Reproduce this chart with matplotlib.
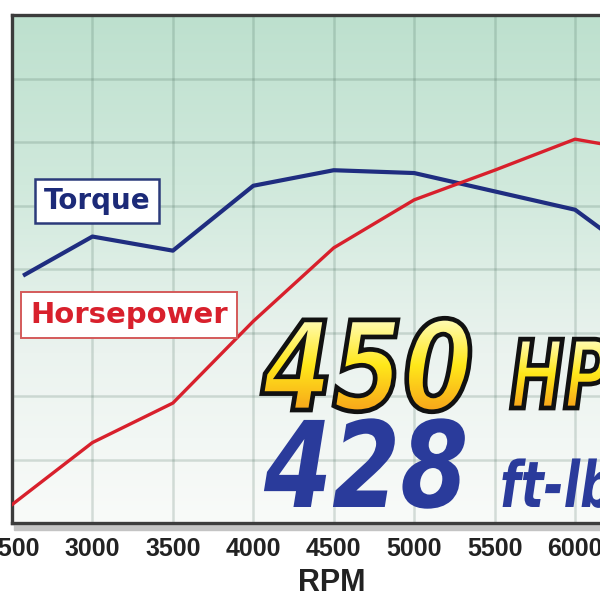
import numpy as np
import matplotlib
matplotlib.use("Agg")
from matplotlib import pyplot as plt
from matplotlib import font_manager
from matplotlib.textpath import TextPath
from matplotlib.patches import PathPatch, Rectangle
from matplotlib.font_manager import FontProperties
from matplotlib.colors import LinearSegmentedColormap
from matplotlib.transforms import Affine2D

# dyno readings
rpm_torque = [2580, 3000, 3500, 4000, 4500, 5000, 5500, 6000, 6500]
torque = [354, 381, 371, 417, 428, 426, 413, 400, 358]
rpm_hp = [2500, 3000, 3500, 4000, 4500, 5000, 5500, 6000, 6500]
horsepower = [191, 235, 263, 321, 373, 407, 428, 450, 440]
rpm_ticks = [2500, 3000, 3500, 4000, 4500, 5000, 5500, 6000]
grid_levels = [178 + 45 * k for k in range(9)]

peak_hp = "450"
peak_tq = "428"

names = {f.name for f in font_manager.fontManager.ttflist}
if "Liberation Sans Narrow" in names:
    tick_font = "Liberation Sans Narrow"
    tick_size = 23
    rpm_size = 27
else:
    tick_font = "Liberation Sans"
    tick_size = 18
    rpm_size = 22

fig = plt.figure(figsize=(6, 6), dpi=100)
fig.patch.set_facecolor("white")
# frame shadow
fig.add_artist(Rectangle((14 / 600, 70 / 600), 586 / 600, 8 / 600,
                         transform=fig.transFigure, color="#c4c4c4", zorder=0))
ax = fig.add_axes([12 / 600, 77 / 600, 588 / 600, 508 / 600])
ax.set_xlim(2500, 6155)
ax.set_ylim(178, 538)

# background gradient
bg = LinearSegmentedColormap.from_list("bg", ["#bde0ce", "#d0e9dc", "#ebf3ef", "#f9fbf9"])
grad = np.linspace(0, 1, 256).reshape(-1, 1)
ax.imshow(grad, extent=(2500, 6155, 178, 538), aspect="auto", cmap=bg,
          origin="upper", zorder=0)

ax.set_xticks(rpm_ticks)
ax.set_yticks(grid_levels)
ax.set_axisbelow(True)
ax.grid(True, color="#3f6353", alpha=0.2, linewidth=1.8)
ax.tick_params(length=0, pad=10, labelleft=False)
ax.set_xticklabels([str(r) for r in rpm_ticks], family=tick_font,
                   fontsize=tick_size, fontweight="bold", color="#222222")
for s in ["top", "left", "bottom"]:
    ax.spines[s].set_color("#3c3c3c")
    ax.spines[s].set_linewidth(2.4)
ax.spines["right"].set_visible(False)

fig.text(332 / 600, 1 - 568 / 600, "RPM", ha="center", va="top", family=tick_font,
         fontsize=rpm_size, fontweight="bold", color="#222222")

ax.plot(rpm_torque, torque, color="#1f2d80", linewidth=3.0, zorder=3)
ax.plot(rpm_hp, horsepower, color="#d8202c", linewidth=2.4, zorder=3)

# legend boxes
ax.text((97 - 12) / 588, (523 - 201) / 508, "Torque", transform=ax.transAxes,
        ha="center", va="center", family="DejaVu Sans", fontweight="bold",
        fontsize=20, color="#1c2a78", zorder=4,
        bbox=dict(boxstyle="square,pad=0.3", facecolor="white",
                  edgecolor="#2b3a7a", linewidth=1.8))
ax.text((129 - 12) / 588, (523 - 315) / 508, "Horsepower", transform=ax.transAxes,
        ha="center", va="center", family="DejaVu Sans", fontweight="bold",
        fontsize=21, color="#d8202c", zorder=4,
        bbox=dict(boxstyle="square,pad=0.3", facecolor="white",
                  edgecolor="#d45a5a", linewidth=1.4))

# big peak numbers drawn as paths so they can take a gradient fill
fp = FontProperties(family="DejaVu Sans", weight="bold", style="oblique")
k = fig.dpi / 72
yellow = LinearSegmentedColormap.from_list("yel", ["#fffcb8", "#ffe81a", "#f8a41a"])


def big_text(s, size, px, py, sx=1.0, fill=None, outline=True):
    tp = TextPath((0, 0), s, size=size, prop=fp)
    trans = Affine2D().scale(k * sx, k).translate(px, 600 - py)
    patch = PathPatch(tp, transform=trans, zorder=6,
                      facecolor=fill if fill else "none",
                      edgecolor="#111111" if outline else "none",
                      linewidth=3.4 if outline else 0)
    ax.add_patch(patch)
    if fill is None:
        bb = tp.get_extents(trans)
        inv = ax.transData.inverted()
        x0, y0 = inv.transform((bb.x0, bb.y0))
        x1, y1 = inv.transform((bb.x1, bb.y1))
        im = ax.imshow(grad, extent=(x0, x1, y0, y1), aspect="auto", cmap=yellow,
                       origin="upper", zorder=5)
        im.set_clip_path(patch)
    return patch


big_text(peak_hp, 89, 262, 410, sx=0.82)
big_text("HP", 68, 510, 408, sx=0.68)
big_text(peak_tq, 86, 264, 507, sx=0.82, fill="#2a3b9b", outline=False)
big_text("ft-lbs", 46, 500, 507, sx=0.75, fill="#2a3b9b", outline=False)

ax.set_xlim(2500, 6155)
ax.set_ylim(178, 538)

fig.savefig("out.png", dpi=100)
